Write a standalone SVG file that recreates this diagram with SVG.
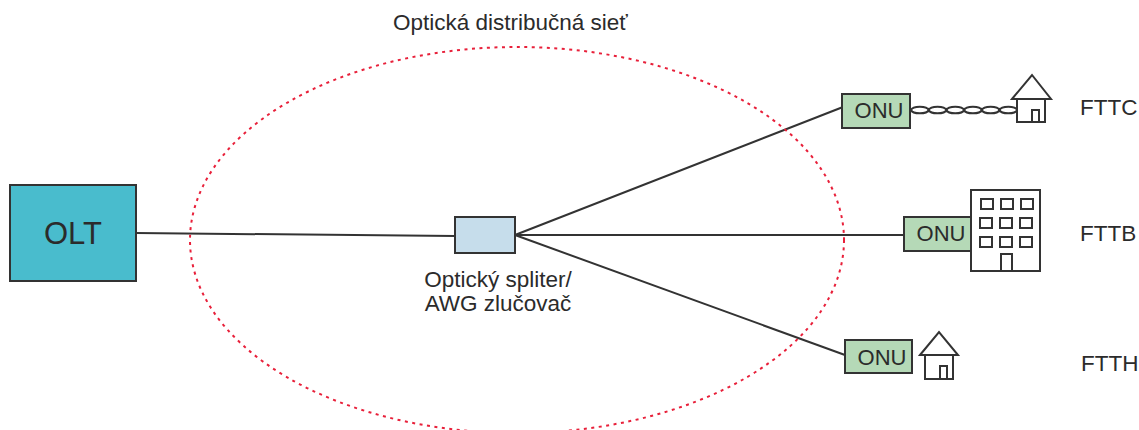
<svg xmlns="http://www.w3.org/2000/svg" width="1139" height="430" viewBox="0 0 1139 430">
<style>
text{font-family:"Liberation Sans",Arial,sans-serif;font-size:22.5px;fill:#2b2b2b}
.box{stroke:#333;stroke-width:2}
.onu{fill:#b5d9b7}
.ln{fill:none;stroke:#333;stroke-width:2}
.tw{fill:none;stroke:#333;stroke-width:2}
.hs{fill:#fff;stroke:#333;stroke-width:2}
.win{fill:#fff;stroke:#333;stroke-width:2}
</style>
<rect width="1139" height="430" fill="#fff"/>
<g id="connectors">
<path class="ln" d="M136 233 L455 236"/>
<path class="ln" d="M515 235 L843 107"/>
<path class="ln" d="M515 235 H904"/>
<path class="ln" d="M515 235 L845 355"/>
<path class="tw" d="M911 110 a9 4 0 0 1 17.7 0 a9 4 0 0 1 17.7 0 a9 4 0 0 1 17.7 0 a9 4 0 0 1 17.7 0 a9 4 0 0 1 17.7 0 a9 4 0 0 1 17.7 0 a9 4 0 0 1 -17.7 0 M1017.2 110 a9 4 0 0 1 -17.7 0 a9 4 0 0 1 -17.7 0 a9 4 0 0 1 -17.7 0 a9 4 0 0 1 -17.7 0 a9 4 0 0 1 -17.7 0 a9 4 0 0 1 -17.7 0"/>
</g>
<g id="ellipse">
<ellipse cx="517" cy="240" rx="327" ry="193" fill="none" stroke="#e8203a" stroke-width="2" stroke-dasharray="3 4.5"/>
</g>
<g id="title"><text x="393" y="30">Optická distribučná sieť</text></g>
<g id="olt">
<rect class="box" x="10" y="185" width="126" height="96" fill="#49bccd"/>
<text x="73" y="244" text-anchor="middle" style="font-size:31px">OLT</text>
</g>
<g id="splitter">
<rect class="box" x="455" y="217" width="60" height="36" fill="#c6ddeb"/>
<text x="498" y="287" text-anchor="middle">Optický spliter/</text>
<text x="498" y="311" text-anchor="middle">AWG zlučovač</text>
</g>
<g id="onu-c">
<rect class="box onu" x="842" y="94" width="68" height="34"/>
<text x="879" y="118" text-anchor="middle" style="font-size:22px">ONU</text>
</g>
<g id="house-c">
<rect class="hs" x="1017" y="99" width="28" height="23"/>
<path class="hs" d="M1012 99 L1032 75 L1051 99 Z"/>
<rect class="hs" x="1032" y="110" width="7" height="12"/>
</g>
<g id="onu-b">
<rect class="box onu" x="904" y="217" width="68" height="34"/>
<text x="941" y="241" text-anchor="middle" style="font-size:22px">ONU</text>
</g>
<g id="building">
<rect class="hs" x="971" y="190" width="69" height="81"/>
<rect class="win" x="981" y="199" width="12" height="10"/><rect class="win" x="1001" y="199" width="12" height="10"/><rect class="win" x="1021" y="199" width="12" height="10"/>
<rect class="win" x="980" y="218" width="12" height="10"/><rect class="win" x="1000" y="218" width="12" height="10"/><rect class="win" x="1020" y="218" width="12" height="10"/>
<rect class="win" x="980" y="237" width="12" height="10"/><rect class="win" x="1000" y="237" width="12" height="10"/><rect class="win" x="1020" y="237" width="12" height="10"/>
<rect class="hs" x="1001" y="254" width="11" height="17"/>
</g>
<g id="onu-h">
<rect class="box onu" x="845" y="340" width="67" height="33"/>
<text x="882" y="365" text-anchor="middle" style="font-size:22px">ONU</text>
</g>
<g id="house-h">
<rect class="hs" x="925" y="355" width="28" height="24"/>
<path class="hs" d="M920 355 L939 332 L958 355 Z"/>
<rect class="hs" x="940" y="366" width="7" height="13"/>
</g>
<g id="labels">
<text x="1080" y="115">FTTC</text>
<text x="1080" y="241">FTTB</text>
<text x="1081" y="371">FTTH</text>
</g>
</svg>
